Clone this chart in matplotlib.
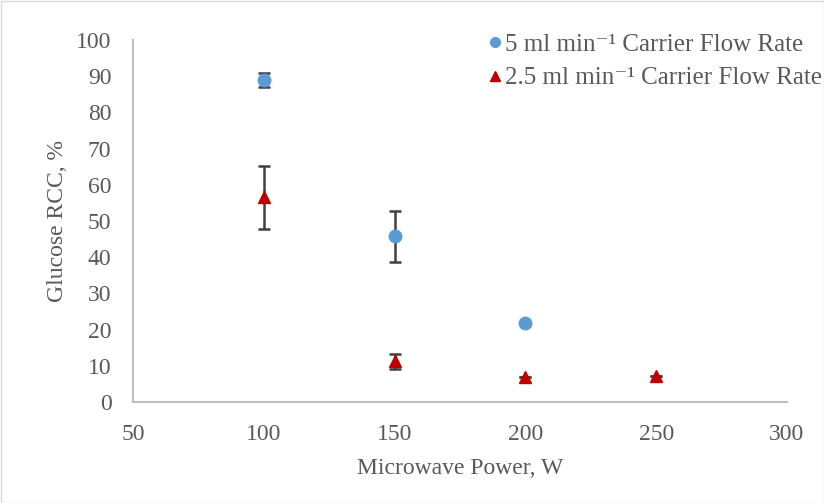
import matplotlib
matplotlib.use("Agg")
import matplotlib.pyplot as plt
from matplotlib.patches import Rectangle

plt.rcParams['font.family'] = ['Liberation Serif', 'DejaVu Serif']

power = [100, 150, 200]
rcc_5 = [89.0, 45.8, 21.8]
err_5 = [2.0, 7.0, 0.0]
power_25 = [100, 150, 200, 250]
rcc_25 = [56.5, 11.2, 7.0, 7.2]
err_25 = [8.7, 2.0, 0.0, 0.0]
label_5 = "5 ml min\u207b\u00b9 Carrier Flow Rate"
label_25 = "2.5 ml min\u207b\u00b9 Carrier Flow Rate"
xticks = [50, 100, 150, 200, 250, 300]
yticks = list(range(0, 101, 10))

W, H = 824, 503
fig = plt.figure(figsize=(W/100, H/100), dpi=100)
x0, x1, y0, y1 = 133, 787, 402, 40
ax = fig.add_axes([x0/W, 1-y0/H, (x1-x0)/W, (y0-y1)/H])

txt = '#595959'
ax.errorbar(power, rcc_5, yerr=err_5, fmt='none', ecolor='#404040', elinewidth=1.8, capsize=4.5, capthick=1.8, zorder=2)
ax.errorbar(power_25, rcc_25, yerr=err_25, fmt='none', ecolor='#404040', elinewidth=1.8, capsize=4.5, capthick=1.8, zorder=2)
ax.plot(power, rcc_5, 'o', color='#5B9BD5', markersize=9, linestyle='none', zorder=3)
ax.plot(power_25, rcc_25, '^', color='#C00000', markersize=9, linestyle='none', zorder=3)

ax.set_xlim(50, 300)
ax.set_ylim(0, 100)
ax.set_xticks(xticks)
ax.set_yticks(yticks)
for s in ['top', 'right']:
    ax.spines[s].set_visible(False)
for s in ['bottom', 'left']:
    ax.spines[s].set_color('#bfbfbf')
    ax.spines[s].set_linewidth(1.5)
ax.tick_params(axis='both', length=0, labelsize=17, colors=txt)
ax.tick_params(axis='y', pad=15.5)
ax.tick_params(axis='x', pad=15.5)
ax.set_xlabel("Microwave Power, W", fontsize=17, color=txt, labelpad=10)
ax.set_ylabel("Glucose RCC, %", fontsize=17, color=txt, labelpad=5.5)

h1 = plt.Line2D([], [], marker='o', color='#5B9BD5', linestyle='none', markersize=7)
h2 = plt.Line2D([], [], marker='^', color='#C00000', linestyle='none', markersize=7)
leg = fig.legend([h1, h2], [label_5, label_25], loc='upper left', bbox_to_anchor=(484/W, 1-33/H),
                 frameon=False, fontsize=18, handletextpad=0.0, handlelength=0.85, labelspacing=0.45,
                 borderaxespad=0, borderpad=0)
for t in leg.get_texts():
    t.set_color(txt)

fig.patches.append(Rectangle((0.5/W, 0.5/H), 1-1/W, 1-1/H, transform=fig.transFigure,
                             fill=False, edgecolor='#d9d9d9', linewidth=1))
fig.savefig("out.png", dpi=100)
